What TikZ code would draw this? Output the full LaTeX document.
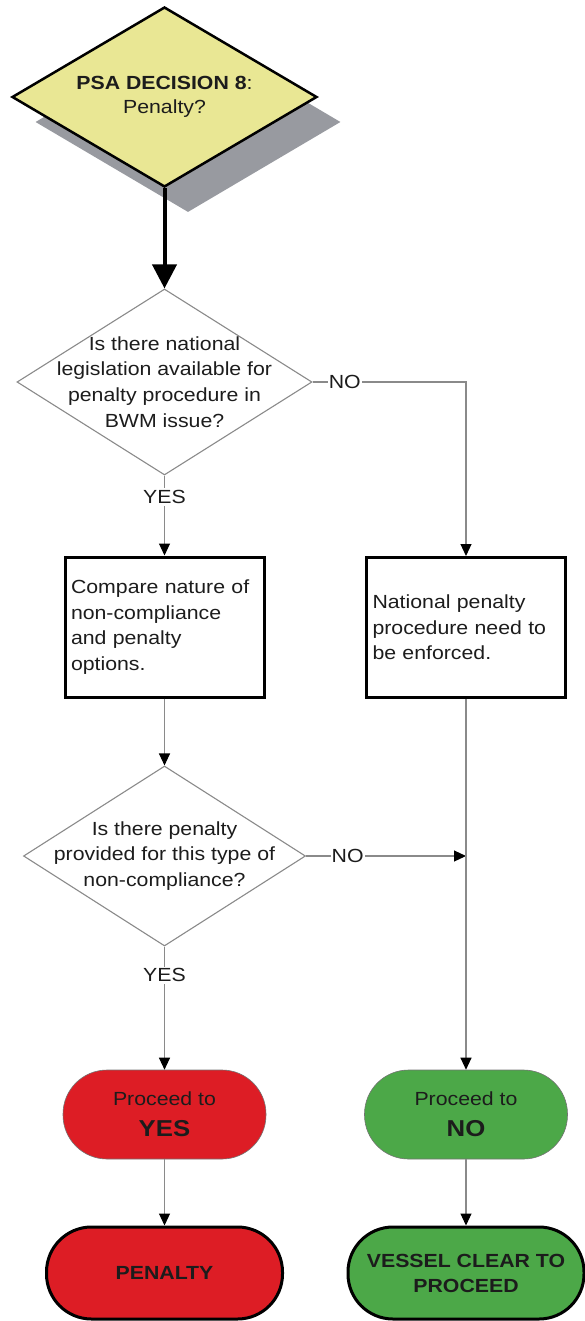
\documentclass[tikz,border=0pt]{standalone}
\usepackage{fontspec}
\setmainfont[FakeStretch=1.12]{Liberation Sans}
\usetikzlibrary{arrows.meta,shapes.geometric}

\definecolor{decyellow}{RGB}{233,231,148}
\definecolor{shadowgray}{RGB}{152,154,160}
\definecolor{linegray}{RGB}{138,138,138}
\definecolor{termred}{RGB}{221,29,37}
\definecolor{termgreen}{RGB}{76,168,72}
\definecolor{inkdark}{RGB}{28,28,28}

\begin{document}
\begin{tikzpicture}[x=1pt,y=-1pt,
  every node/.style={font=\fontsize{19}{25.7}\selectfont, text=inkdark},
  decision/.style={diamond, draw=linegray, line width=1.1pt, inner sep=0pt},
  qtext/.style={align=center, inner sep=0pt},
  stepbox/.style={rectangle, draw=black, line width=3pt, minimum width=199pt,
    minimum height=140pt, text width=187pt, inner xsep=6pt, align=left},
  conn/.style={draw=linegray, line width=1.1pt,
    -{Triangle[length=12pt,width=11pt,color=black]}},
  lbl/.style={fill=white, inner xsep=1pt, inner ysep=2pt},
  term/.style={rectangle, rounded corners=44pt, minimum width=203pt,
    minimum height=89pt, draw=black!55, line width=0.6pt, align=center},
  endterm/.style={rectangle, rounded corners=45pt, minimum width=236pt,
    minimum height=92pt, draw=black, line width=3pt, align=center,
    font=\fontsize{19}{25}\selectfont\bfseries},
]
\useasboundingbox (0,0) rectangle (584,1321);

% decision 8 with its drop shadow
\node[diamond, inner sep=0pt, minimum width=305pt, minimum height=180pt,
  fill=shadowgray] (d1shadow) at (188,122) {};
\node[diamond, inner sep=0pt, minimum width=305pt, minimum height=180pt,
  fill=decyellow, draw=black, line width=2.5pt] (d1) at (164.5,97) {};
\node[qtext, font=\fontsize{19}{23.5}\selectfont] (d1text) at (d1.center)
  {\textbf{PSA DECISION 8}:\\Penalty?};

% questions
\node[decision, minimum width=295pt, minimum height=186pt] (d2) at (164.5,382) {};
\node[qtext] (d2text) at (164.5,382)
  {Is there national\\legislation available for\\penalty procedure in\\BWM issue?};

\node[decision, minimum width=282pt, minimum height=180pt] (d3) at (164.5,856) {};
\node[qtext] (d3text) at (164.5,856)
  {Is there penalty\\provided for this type of\\non-compliance?};

% process boxes
\node[stepbox] (box1) at (164.5,627)
  {Compare nature of\\non-compliance\\and penalty\\options.};
\node[stepbox] (box2) at (466,627.5)
  {National penalty\\procedure need to\\be enforced.};

% outcome terminals
\node[term, fill=termred] (rt1) at (164.5,1114.5)
  {Proceed to\\[5pt]{\bfseries\fontsize{23}{23}\selectfont YES}};
\node[term, fill=termgreen] (gt1) at (466,1114.5)
  {Proceed to\\[5pt]{\bfseries\fontsize{23}{23}\selectfont NO}};
\node[endterm, fill=termred] (rt2) at (164.5,1273) {PENALTY};
\node[endterm, fill=termgreen] (gt2) at (466,1273) {VESSEL CLEAR TO\\PROCEED};

% connectors
\draw[line width=4pt, -{Triangle[length=24pt,width=24pt]}] (d1.south) -- (d2.north);

\coordinate (c1) at (box2.north |- d2.east);
\coordinate (c2) at (box2.south |- d3.east);

\draw[conn] (d2.south) -- node[lbl, pos=0.27] (yes1) {YES} (box1.north);
\draw[conn] (d2.east) -- node[lbl, pos=0.21] (no1) {NO} (c1) -- (box2.north);
\draw[conn] (box1.south) -- (d3.north);
\draw[conn] (d3.east) -- node[lbl, pos=0.26] (no2) {NO} (c2);
\draw[conn] (box2.south) -- (gt1.north);
\draw[conn] (d3.south) -- node[lbl, pos=0.234] (yes2) {YES} (rt1.north);
\draw[conn] (rt1.south) -- (rt2.north);
\draw[conn] (gt1.south) -- (gt2.north);
\end{tikzpicture}
\end{document}
